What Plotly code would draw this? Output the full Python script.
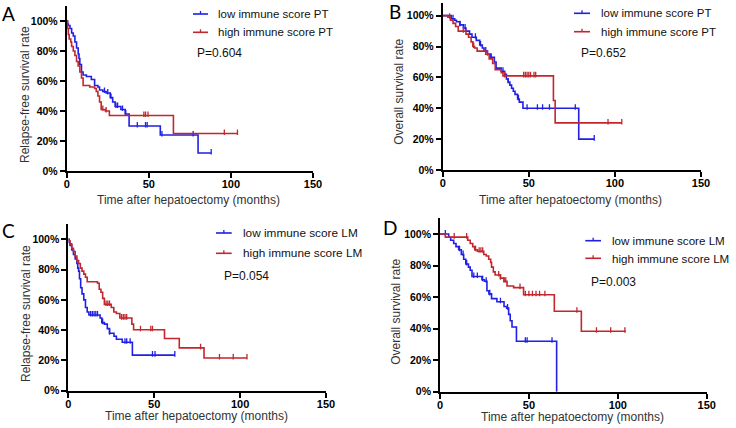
import numpy as np
import plotly.graph_objects as go

W, H = 736, 428
BLUE = "#1f1fe6"
RED = "#c1272d"

# ---------------- data ----------------
# Panel A: relapse-free survival, PT
a_low_t = [0, 0.5, 1, 2, 3, 4, 5, 6, 7, 7.5, 8, 9, 10, 12, 15, 17, 19, 20, 22, 24, 26.5, 28, 29.5, 33, 35.6, 38, 57, 80, 88]
a_low_s = [100, 98, 97, 95, 92, 90, 86, 82, 78, 75, 71, 66, 64, 63, 61, 57, 56, 54, 53, 52, 49, 46, 43, 41, 38, 30, 24, 12, 12]
a_low_c = [23, 25, 27, 30, 31, 34, 36, 43, 48, 49, 58, 77, 88]
a_high_t = [0, 0.5, 1, 1.5, 2.5, 3, 4, 5, 6, 7, 8, 9, 10, 14, 17, 18, 19, 20, 21, 23.5, 26, 65, 104]
a_high_s = [100, 95, 91, 88, 86, 83, 80, 77, 73, 70, 66, 62, 57, 56, 55, 53, 50, 46, 41, 40, 37, 25, 25]
a_high_c = [22, 24, 47, 48, 49.5, 96, 104]

# Panel B: overall survival, PT
b_low_t = [0, 5, 7, 8, 10, 12, 13.5, 15.6, 17, 19.5, 21.5, 23, 24, 26, 28, 30, 31, 34, 36, 37, 38, 39, 40, 41, 42, 43.5, 44.5, 46.6, 79, 88]
b_low_s = [100, 98, 97, 96, 94, 92, 90, 88, 86, 84, 81, 79, 77, 75, 73, 70, 66, 64, 62, 59, 57, 55, 53, 51, 49, 46, 44, 40, 20, 20]
b_low_c = [6, 10, 13, 19, 22, 25, 28, 35, 38, 44, 49, 55, 58, 62, 77, 88]
b_high_t = [0, 3, 4.5, 6, 7.5, 9, 13.5, 15, 16.5, 17.5, 18.5, 20, 25, 27, 29, 30.5, 34, 35, 64.3, 65.3, 104]
b_high_s = [100, 99, 97, 95, 93, 90, 88, 86, 83, 80, 79, 77, 75, 72, 69, 65, 63, 61, 45, 30.5, 30.5]
b_high_c = [4, 12, 18, 26, 36, 47, 48, 49, 50, 51, 53, 54, 96, 104]

# Panel C: relapse-free survival, LM
c_low_t = [0, 0.5, 1, 2, 3, 4, 5, 5.5, 6, 6.5, 7.2, 8, 9, 10, 11, 12, 18.5, 19.5, 21, 22.7, 24, 26.6, 28, 31.4, 37.3, 62]
c_low_s = [100, 98, 96, 93, 90, 87, 84, 81, 79, 74, 68, 64, 60, 55, 52, 50, 48, 45, 44, 41, 38, 36, 34, 32, 23.5, 23.5]
c_low_c = [13, 14, 15, 16, 17, 20, 24, 33, 34, 36, 49, 50.5, 62]
c_high_t = [0, 0.5, 1, 2, 3, 4, 5, 6, 7, 8, 9, 10, 11, 17, 18, 19, 20, 21, 25, 26.5, 28, 30, 37, 38, 56, 64.6, 79, 104]
c_high_s = [100, 99, 97, 94, 92, 89, 86, 84, 81, 79, 77, 75, 72, 71, 67, 65, 61, 57, 55, 52, 51, 48, 44, 40.3, 34.5, 28.3, 21.6, 21.6]
c_high_c = [22, 23, 24, 31, 32, 33, 34, 42, 48, 49, 77, 88, 96, 104]

# Panel D: overall survival, LM
d_low_t = [0, 4.9, 6, 7.7, 9, 10.5, 12, 13.3, 14.5, 16, 17, 18, 23.6, 25, 26.4, 27.5, 29, 32, 36, 37.5, 38.6, 39.5, 40.5, 43, 65.6]
d_low_s = [100, 98, 96, 94, 92, 90, 87, 84, 81, 79, 77, 73, 71, 70, 64, 62, 59, 57, 54, 53, 49, 45, 41, 32, 0]
d_low_c = [3, 11, 13, 15, 19, 21, 24, 26, 28, 34, 38, 48, 49, 63]
d_high_t = [0, 3, 15.6, 17, 18.4, 19.5, 21, 24.6, 26, 27.4, 28.5, 29, 30, 31, 34, 36, 37.7, 41.4, 47, 64.3, 79.5, 104.5]
d_high_s = [100, 98, 96, 94, 92, 90, 89, 87, 86, 84, 82, 79, 76, 74, 72, 70, 67, 66, 61.5, 51, 38.3, 38.3]
d_high_c = [8, 15, 20, 22, 23, 24, 33, 34, 36, 37, 45, 48, 50, 52, 54, 56, 59, 77, 88, 96, 104]

panel_letters = ["A", "B", "C", "D"]
y_titles = ["Relapse-free survival rate", "Overall survival rate",
            "Relapse-free survival rate", "Overall survival rate"]
x_title = "Time after hepatoectomy (months)"
legend_low = ["low immune score PT", "low immune score PT", "low immune score LM", "low immune score LM"]
legend_high = ["high immune score PT", "high immune score PT", "high immune score LM", "high immune score LM"]
p_values = ["P=0.604", "P=0.652", "P=0.054", "P=0.003"]
x_ticks = [0, 50, 100, 150]
y_ticks = [0, 20, 40, 60, 80, 100]
x_tick_labels = ["0", "50", "100", "150"]
y_tick_labels = ["0%", "20%", "40%", "60%", "80%", "100%"]

curves = [
    (a_low_t, a_low_s, a_low_c, a_high_t, a_high_s, a_high_c),
    (b_low_t, b_low_s, b_low_c, b_high_t, b_high_s, b_high_c),
    (c_low_t, c_low_s, c_low_c, c_high_t, c_high_s, c_high_c),
    (d_low_t, d_low_s, d_low_c, d_high_t, d_high_s, d_high_c),
]

# ---------------- layout geometry (pixels) ----------------
geo = [
    dict(x0=66.7, x1=313.0, yb=171.0, yt=6.0, ymax=110, ytx=25, xty=199.5),
    dict(x0=442.7, x1=701.0, yb=170.0, yt=3.3, ymax=108, ytx=399, xty=199.5),
    dict(x0=68.3, x1=326.0, yb=390.7, yt=224.2, ymax=110, ytx=26, xty=415.5),
    dict(x0=440.0, x1=706.7, yb=391.7, yt=218.2, ymax=110, ytx=396, xty=417),
]
leg = [
    dict(yb=14.0, yr=32.3, lx0=193, lx1=208, tx=216, px=195, py=52.8, fs=11.5),
    dict(yb=13.3, yr=31.7, lx0=574, lx1=590, tx=598.7, px=579, py=53.3, fs=11.5),
    dict(yb=233.0, yr=253.3, lx0=216, lx1=231.7, tx=240.7, px=221.7, py=276.3, fs=11.8),
    dict(yb=240.7, yr=258.3, lx0=585.3, lx1=601, tx=610.3, px=588.7, py=282.3, fs=11.6),
]
letters_pos = [(8.5, 13.5), (395, 11.5), (8.5, 230), (390, 227.5)]


def px(x):
    return x / W


def py(y):
    return 1 - y / H


def step_at(times, surv, tt):
    times = np.asarray(times)
    surv = np.asarray(surv)
    idx = np.searchsorted(times, tt, side="right") - 1
    idx = np.clip(idx, 0, len(surv) - 1)
    return surv[idx]


fig = go.Figure()
layout = dict(
    width=W, height=H,
    margin=dict(l=0, r=0, t=0, b=0, autoexpand=False),
    paper_bgcolor="white", plot_bgcolor="white",
    showlegend=False,
    font=dict(family="Liberation Sans, Arial, sans-serif", color="black"),
)
annotations = []
shapes = []
TITLE_COL = "#333333"

for i in range(4):
    g = geo[i]
    sfx = "" if i == 0 else str(i + 1)
    xa, ya = "x" + sfx, "y" + sfx
    lt, ls, lc, ht, hs, hc = curves[i]
    for t, s, c, col, name in [(lt, ls, lc, BLUE, legend_low[i]), (ht, hs, hc, RED, legend_high[i])]:
        fig.add_trace(go.Scatter(x=t, y=s, mode="lines", line=dict(color=col, width=1.6, shape="hv"),
                                 xaxis=xa, yaxis=ya, name=name, hoverinfo="skip"))
        fig.add_trace(go.Scatter(x=c, y=step_at(t, s, c) + 0.8, mode="markers",
                                 marker=dict(symbol="line-ns", size=4, line=dict(color=col, width=1.3)),
                                 xaxis=xa, yaxis=ya, name=name + " censored", hoverinfo="skip"))
    layout["xaxis" + sfx] = dict(
        domain=[px(g["x0"]), px(g["x1"])], anchor=ya, range=[0, 150], automargin=False,
        tickmode="array", tickvals=x_ticks, ticktext=["<b>%s</b>" % s for s in x_tick_labels],
        ticks="outside", ticklen=5, tickwidth=1.5, tickcolor="black", ticklabelstandoff=-3,
        showline=True, linecolor="black", linewidth=1.8, showgrid=False, zeroline=False,
        tickfont=dict(size=11, family="Liberation Sans, Arial", color="black"),
    )
    layout["yaxis" + sfx] = dict(
        domain=[py(g["yb"]), py(g["yt"])], anchor=xa, range=[0, g["ymax"]], automargin=False,
        tickmode="array", tickvals=y_ticks, ticktext=["<b>%s</b>" % s for s in y_tick_labels],
        ticks="outside", ticklen=5, tickwidth=1.5, tickcolor="black",
        showline=True, linecolor="black", linewidth=1.8, showgrid=False, zeroline=False,
        tickfont=dict(size=10.5, family="Liberation Sans, Arial", color="black"),
    )
    # axis titles
    annotations.append(dict(text=x_title, xref="paper", yref="paper",
                            x=px((g["x0"] + g["x1"]) / 2 - 1), y=py(g["xty"]),
                            xanchor="center", yanchor="middle", showarrow=False,
                            font=dict(size=12, color=TITLE_COL)))
    annotations.append(dict(text=y_titles[i], xref="paper", yref="paper",
                            x=px(g["ytx"]), y=py((g["yb"] + g["yb"] - 100 * (g["yb"] - g["yt"]) / g["ymax"]) / 2 - 1),
                            xanchor="center", yanchor="middle", showarrow=False, textangle=-90,
                            font=dict(size=12, color=TITLE_COL)))
    # legend (manual)
    L = leg[i]
    for yy, col, txt in [(L["yb"], BLUE, legend_low[i]), (L["yr"], RED, legend_high[i])]:
        shapes.append(dict(type="line", xref="paper", yref="paper", x0=px(L["lx0"]), x1=px(L["lx1"]),
                           y0=py(yy), y1=py(yy), line=dict(color=col, width=1.6)))
        mid = (L["lx0"] + L["lx1"]) / 2
        shapes.append(dict(type="line", xref="paper", yref="paper", x0=px(mid), x1=px(mid),
                           y0=py(yy), y1=py(yy - 3), line=dict(color=col, width=1.3)))
        annotations.append(dict(text=txt, xref="paper", yref="paper", x=px(L["tx"]), y=py(yy),
                                xanchor="left", yanchor="middle", showarrow=False,
                                font=dict(size=L["fs"], color="#111111")))
    annotations.append(dict(text=p_values[i], xref="paper", yref="paper", x=px(L["px"]), y=py(L["py"]),
                            xanchor="left", yanchor="middle", showarrow=False,
                            font=dict(size=12, color="#111111")))
    lx, ly = letters_pos[i]
    annotations.append(dict(text=panel_letters[i], xref="paper", yref="paper", x=px(lx), y=py(ly),
                            xanchor="center", yanchor="middle", showarrow=False,
                            font=dict(size=19, family="Lato, DejaVu Sans", color="black")))

layout["annotations"] = annotations
layout["shapes"] = shapes
fig.update_layout(**layout)
fig.write_html("out.html", config={"displayModeBar": False},
               post_script="document.body.style.margin='0px';document.body.style.padding='0px';")
